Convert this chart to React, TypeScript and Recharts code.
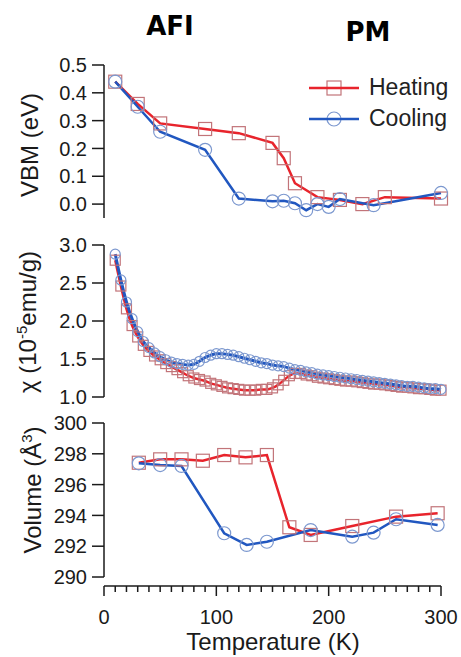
import * as React from "react";
import { LineChart, Line, XAxis, YAxis, Legend, ReferenceLine } from "recharts";

// VBM panel
const vbmHeatT = [10, 30, 50, 90, 120, 150, 160, 170, 190, 210, 230, 250, 300];
const vbmHeat = [0.44, 0.36, 0.29, 0.27, 0.255, 0.22, 0.165, 0.075, 0.025, 0.015, 0.0, 0.025, 0.02];
const vbmCoolT = [10, 30, 50, 90, 120, 150, 160, 170, 180, 190, 200, 210, 240, 300];
const vbmCool = [0.44, 0.35, 0.26, 0.195, 0.02, 0.01, 0.012, 0.003, -0.022, 0.0, -0.01, 0.018, -0.004, 0.04];

// susceptibility panel
const chiT = [10, 15, 20, 25, 30, 35, 40, 45, 50, 55, 60, 65, 70, 75, 80, 85, 90, 95, 100, 105, 110, 115, 120, 125, 130, 135, 140, 145, 150, 155, 160, 165, 170, 175, 180, 185, 190, 195, 200, 205, 210, 215, 220, 225, 230, 235, 240, 245, 250, 255, 260, 265, 270, 275, 280, 285, 290, 295, 300];
const chiHeat = [2.80, 2.46, 2.16, 1.94, 1.79, 1.68, 1.60, 1.54, 1.49, 1.44, 1.40, 1.36, 1.32, 1.28, 1.25, 1.23, 1.21, 1.18, 1.16, 1.14, 1.12, 1.11, 1.10, 1.09, 1.09, 1.09, 1.10, 1.10, 1.12, 1.16, 1.22, 1.28, 1.31, 1.31, 1.29, 1.28, 1.26, 1.25, 1.24, 1.23, 1.22, 1.21, 1.21, 1.20, 1.19, 1.18, 1.17, 1.17, 1.16, 1.15, 1.14, 1.13, 1.13, 1.12, 1.11, 1.11, 1.10, 1.09, 1.09];
const chiCool = [2.88, 2.54, 2.25, 2.03, 1.86, 1.73, 1.65, 1.58, 1.53, 1.49, 1.46, 1.44, 1.43, 1.42, 1.43, 1.47, 1.52, 1.55, 1.57, 1.57, 1.56, 1.55, 1.53, 1.51, 1.49, 1.47, 1.45, 1.44, 1.42, 1.41, 1.40, 1.38, 1.36, 1.35, 1.33, 1.32, 1.30, 1.29, 1.28, 1.27, 1.26, 1.25, 1.24, 1.23, 1.22, 1.21, 1.20, 1.19, 1.18, 1.17, 1.16, 1.15, 1.14, 1.14, 1.13, 1.12, 1.11, 1.11, 1.10];

// volume panel
const volHeatT = [31, 50, 69, 88, 107, 126, 145, 165, 184, 221, 260, 297];
const volHeat = [297.42, 297.64, 297.64, 297.55, 297.92, 297.77, 297.92, 293.23, 292.73, 293.31, 293.92, 294.14];
const volCoolT = [31, 50, 69, 107, 127, 145, 184, 221, 240, 260, 297];
const volCool = [297.38, 297.27, 297.21, 292.84, 292.08, 292.29, 293.05, 292.62, 292.88, 293.75, 293.38];

const vbmTicks = [0, 0.1, 0.2, 0.3, 0.4, 0.5];
const chiTicks = [1.0, 1.5, 2.0, 2.5, 3.0];
const volTicks = [290, 292, 294, 296, 298, 300];
const tempTicks = [0, 10, 20, 30, 40, 50, 60, 70, 80, 90, 100, 110, 120, 130, 140, 150, 160, 170, 180, 190, 200, 210, 220, 230, 240, 250, 260, 270, 280, 290, 300];
const seriesNames = ["Heating", "Cooling"];

const FONT = "'Liberation Sans', Arial, sans-serif";
const RED = "#e8242c";
const BLUE = "#2157c0";
const RED_MK = "#c27479";
const BLUE_MK = "#7c98cf";
const AXIS = "#1a1a1a";

const rows = (xs: number[], ys: number[]) => xs.map((T, i) => ({ T, v: ys[i] }));

const squareDot = (size: number) => (p: any) => (
  <rect
    key={`sq-${p.index}`}
    x={p.cx - size / 2}
    y={p.cy - size / 2}
    width={size}
    height={size}
    fill="none"
    stroke={RED_MK}
    strokeWidth={1.2}
  />
);
const circleDot = (r: number) => ({ r, fill: "none", stroke: BLUE_MK, strokeWidth: 1.2 });

const tickStyle = { fontSize: 20, fill: AXIS, fontFamily: FONT };

const TempTick = (props: any) => {
  const { x, y, payload } = props;
  const major = payload.value % 100 === 0;
  return (
    <g>
      <line x1={x} x2={x} y1={y} y2={y + (major ? 10 : 6)} stroke={AXIS} strokeWidth={1.5} />
      {major && (
        <text x={x} y={y + 31} textAnchor="middle" dominantBaseline="central" fontSize={20} fontFamily={FONT} fill={AXIS}>
          {payload.value}
        </text>
      )}
    </g>
  );
};

const LegendBox = ({ payload }: any) => {
  const items = (payload || [])
    .filter((e: any) => e.type !== "none" && seriesNames.includes(e.value))
    .sort((a: any, b: any) => seriesNames.indexOf(a.value) - seriesNames.indexOf(b.value));
  return (
    <div style={{ fontFamily: FONT, fontSize: 23, color: "#222" }}>
      {items.map((e: any) => (
        <div key={e.value} style={{ display: "flex", alignItems: "center", height: 31 }}>
          <svg width={50} height={20}>
            {e.value === "Heating" ? (
              <rect x={18} y={3} width={14} height={14} fill="none" stroke={RED_MK} strokeWidth={1.2} />
            ) : (
              <circle cx={25} cy={10} r={7} fill="none" stroke={BLUE_MK} strokeWidth={1.2} />
            )}
            <line x1={0} x2={50} y1={10} y2={10} stroke={e.color} strokeWidth={2.5} />
          </svg>
          <span style={{ marginLeft: 10 }}>{e.value}</span>
        </div>
      ))}
    </div>
  );
};

const VLabel = ({ cx, cy, children }: any) => (
  <div
    style={{
      position: "absolute",
      left: cx,
      top: cy,
      transform: "translate(-50%, -50%) rotate(-90deg)",
      whiteSpace: "nowrap",
      fontFamily: FONT,
      fontSize: 24,
      lineHeight: 1,
      color: AXIS,
    }}
  >
    {children}
  </div>
);

const Title = ({ cx, cy, text }: any) => (
  <div
    style={{
      position: "absolute",
      left: cx,
      top: cy,
      transform: "translate(-50%, -50%)",
      fontFamily: "'DejaVu Sans', sans-serif",
      fontWeight: "bold",
      fontSize: 26,
      lineHeight: 1,
      color: "#000",
    }}
  >
    {text}
  </div>
);

const yAxisProps = {
  width: 104,
  type: "number" as const,
  allowDataOverflow: true,
  interval: 0 as const,
  tick: tickStyle,
  tickSize: 12,
  tickMargin: 5,
  stroke: AXIS,
  strokeWidth: 1.5,
};

export default function App() {
  return (
    <div style={{ position: "absolute", left: 0, top: 0, width: 461, height: 657, background: "#fff" }}>
      <Title cx={170} cy={26} text="AFI" />
      <Title cx={368} cy={32} text="PM" />

      <div style={{ position: "absolute", left: 0, top: 0 }}>
        <LineChart width={461} height={230} margin={{ top: 65, right: 20, bottom: 12, left: 0 }}>
          <XAxis type="number" dataKey="T" domain={[0, 300]} hide />
          <YAxis {...yAxisProps} dataKey="v" domain={[-0.05, 0.5]} ticks={vbmTicks} tickFormatter={(v: number) => v.toFixed(1)} />
          <Legend
            layout="horizontal"
            verticalAlign="middle"
            align="center"
            content={<LegendBox />}
            wrapperStyle={{ top: 72, left: 309, width: 150 }}
          />
          <Line data={rows(vbmHeatT, vbmHeat)} dataKey="v" stroke="none" legendType="none" dot={squareDot(13)} activeDot={false} isAnimationActive={false} />
          <Line data={rows(vbmCoolT, vbmCool)} dataKey="v" stroke="none" legendType="none" dot={circleDot(6.5)} activeDot={false} isAnimationActive={false} />
          <Line data={rows(vbmHeatT, vbmHeat)} dataKey="v" name="Heating" type="linear" stroke={RED} strokeWidth={2.5} dot={false} isAnimationActive={false} />
          <Line data={rows(vbmCoolT, vbmCool)} dataKey="v" name="Cooling" type="linear" stroke={BLUE} strokeWidth={2.5} dot={false} isAnimationActive={false} />
        </LineChart>
      </div>

      <div style={{ position: "absolute", left: 0, top: 230 }}>
        <LineChart width={461} height={180} margin={{ top: 15, right: 20, bottom: 13, left: 0 }}>
          <XAxis type="number" dataKey="T" domain={[0, 300]} hide />
          <YAxis {...yAxisProps} dataKey="v" domain={[1, 3]} ticks={chiTicks} tickFormatter={(v: number) => v.toFixed(1)} />
          <Line data={rows(chiT, chiHeat)} dataKey="v" stroke="none" dot={squareDot(10)} activeDot={false} isAnimationActive={false} />
          <Line data={rows(chiT, chiCool)} dataKey="v" stroke="none" dot={circleDot(5)} activeDot={false} isAnimationActive={false} />
          <Line data={rows(chiT, chiHeat)} dataKey="v" type="monotone" stroke={RED} strokeWidth={2.5} dot={false} isAnimationActive={false} />
          <Line data={rows(chiT, chiCool)} dataKey="v" type="monotone" stroke={BLUE} strokeWidth={3} dot={false} isAnimationActive={false} />
        </LineChart>
      </div>

      <div style={{ position: "absolute", left: 0, top: 410 }}>
        <LineChart width={461} height={247} margin={{ top: 13, right: 20, bottom: 11, left: 0 }}>
          <XAxis
            type="number"
            dataKey="T"
            domain={[0, 300]}
            ticks={tempTicks}
            interval={0}
            height={60}
            tickSize={0}
            tickMargin={0}
            tickLine={false}
            tick={<TempTick />}
            stroke={AXIS}
            strokeWidth={1.5}
          />
          <YAxis {...yAxisProps} dataKey="v" axisLine={false} domain={[289.416, 300]} ticks={volTicks} />
          <ReferenceLine segment={[{ x: 0, y: 290 }, { x: 0, y: 300 }]} stroke={AXIS} strokeWidth={1.5} ifOverflow="visible" />
          <Line data={rows(volHeatT, volHeat)} dataKey="v" stroke="none" dot={squareDot(13)} activeDot={false} isAnimationActive={false} />
          <Line data={rows(volCoolT, volCool)} dataKey="v" stroke="none" dot={circleDot(6.5)} activeDot={false} isAnimationActive={false} />
          <Line data={rows(volHeatT, volHeat)} dataKey="v" type="linear" stroke={RED} strokeWidth={2.5} dot={false} isAnimationActive={false} />
          <Line data={rows(volCoolT, volCool)} dataKey="v" type="linear" stroke={BLUE} strokeWidth={2.5} dot={false} isAnimationActive={false} />
        </LineChart>
      </div>

      <VLabel cx={30} cy={145}>VBM (eV)</VLabel>
      <VLabel cx={27} cy={322}>
        χ (10<sup style={{ fontSize: 15 }}>-5</sup>emu/g)
      </VLabel>
      <VLabel cx={32} cy={490}>
        Volume (Å<sup style={{ fontSize: 15 }}>3</sup>)
      </VLabel>
      <div
        style={{
          position: "absolute",
          left: 273,
          top: 642,
          transform: "translate(-50%, -50%)",
          whiteSpace: "nowrap",
          fontFamily: FONT,
          fontSize: 24,
          lineHeight: 1,
          color: AXIS,
        }}
      >
        Temperature (K)
      </div>
    </div>
  );
}
